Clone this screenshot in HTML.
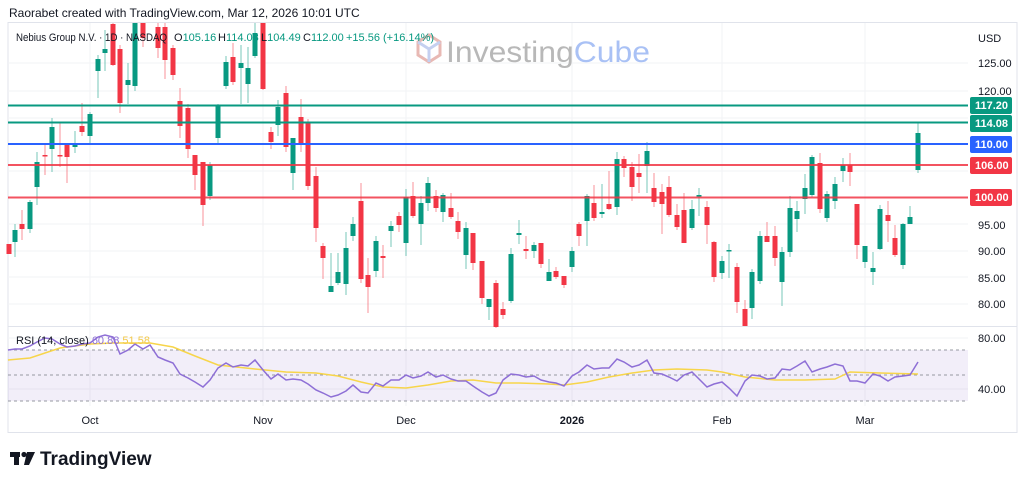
<!DOCTYPE html>
<html><head><meta charset="utf-8"><style>
html,body{margin:0;padding:0;background:#fff;}
body{width:1024px;height:484px;overflow:hidden;font-family:"Liberation Sans",sans-serif;}
</style></head><body>
<svg id="s" width="1024" height="484" xmlns="http://www.w3.org/2000/svg" font-family="Liberation Sans, sans-serif">
<rect width="1024" height="484" fill="#fff"/>
<text x="9" y="17" font-size="12" fill="#131722">Raorabet created with TradingView.com, Mar 12, 2026 10:01 UTC</text>
<rect x="8" y="22.5" width="1009" height="410" fill="none" stroke="#e0e3eb"/>
<g stroke="#f2f3f5" stroke-width="1">
<line x1="8" x2="968" y1="63" y2="63"/><line x1="8" x2="968" y1="91" y2="91"/><line x1="8" x2="968" y1="118" y2="118"/>
<line x1="8" x2="968" y1="171" y2="171"/><line x1="8" x2="968" y1="224" y2="224"/><line x1="8" x2="968" y1="251" y2="251"/>
<line x1="8" x2="968" y1="277" y2="277"/><line x1="8" x2="968" y1="304" y2="304"/>
<line x1="8" x2="968" y1="338" y2="338"/><line x1="8" x2="968" y1="389" y2="389"/>
<line x1="90" x2="90" y1="23" y2="406"/><line x1="263" x2="263" y1="23" y2="406"/><line x1="406" x2="406" y1="23" y2="406"/>
<line x1="572" x2="572" y1="23" y2="406"/><line x1="722" x2="722" y1="23" y2="406"/><line x1="865" x2="865" y1="23" y2="406"/>
</g>
<line x1="8" x2="1017" y1="326.5" y2="326.5" stroke="#e0e3eb"/>
<!-- watermark -->
<g opacity="0.35">
<path d="M418 42 l11 -7 l11 7 v13 l-11 7 l-11 -7z" fill="none" stroke="#c0392b" stroke-width="3"/>
<path d="M418 42 l11 7 l11 -7 M429 49 v13" fill="none" stroke="#5b7bd5" stroke-width="3"/>
</g>
<text x="446" y="62" font-size="30" fill="#b8b8b8" textLength="204" lengthAdjust="spacingAndGlyphs">Investing<tspan fill="#a9c1f5">Cube</tspan></text>
<g id="c"></g>
<!-- levels -->
<line x1="8" x2="968" y1="105.5" y2="105.5" stroke="#089981" stroke-width="2"/>
<line x1="8" x2="968" y1="122.5" y2="122.5" stroke="#089981" stroke-width="2"/>
<line x1="8" x2="968" y1="144" y2="144" stroke="#2962ff" stroke-width="2"/>
<line x1="8" x2="968" y1="165" y2="165" stroke="#f23645" stroke-width="2" opacity="0.85"/>
<line x1="8" x2="968" y1="197.5" y2="197.5" stroke="#f23645" stroke-width="2" opacity="0.85"/>
<g font-size="11" fill="#131722">
<text x="16" y="41" textLength="151" lengthAdjust="spacingAndGlyphs">Nebius Group N.V. · 1D · NASDAQ</text>
<text x="174" y="41">O<tspan fill="#089981">105.16</tspan></text>
<text x="218" y="41">H<tspan fill="#089981">114.08</tspan></text>
<text x="261" y="41">L<tspan fill="#089981">104.49</tspan></text>
<text x="303" y="41">C<tspan fill="#089981">112.00</tspan></text>
<text x="346" y="41" fill="#089981">+15.56 (+16.14%)</text>
</g>
<!-- axis -->
<g font-size="11" fill="#131722">
<text x="978" y="42">USD</text>
<text x="978" y="67">125.00</text><text x="978" y="95">120.00</text>
<text x="978" y="229">95.00</text><text x="978" y="255">90.00</text><text x="978" y="282">85.00</text><text x="978" y="308">80.00</text>
<text x="978" y="342">80.00</text><text x="978" y="393">40.00</text>
</g>
<g font-size="11" font-weight="bold" fill="#fff">
<rect x="970" y="97" width="42" height="17" rx="2" fill="#089981"/><text x="975" y="109">117.20</text>
<rect x="970" y="115" width="42" height="17" rx="2" fill="#089981"/><text x="975" y="127">114.08</text>
<rect x="970" y="136" width="42" height="17" rx="2" fill="#2962ff"/><text x="975" y="148">110.00</text>
<rect x="970" y="157" width="42" height="17" rx="2" fill="#f23645"/><text x="975" y="169">106.00</text>
<rect x="970" y="189" width="42" height="17" rx="2" fill="#f23645"/><text x="975" y="201">100.00</text>
</g>
<!-- RSI -->
<rect x="8" y="350" width="960" height="51" fill="#7e57c2" opacity="0.1"/>
<g stroke="#9598a1" stroke-dasharray="3,3" stroke-width="1">
<line x1="8" x2="968" y1="350" y2="350"/><line x1="8" x2="968" y1="375" y2="375"/><line x1="8" x2="968" y1="401" y2="401"/>
</g>
<polyline id="ma" fill="none" stroke="#f7d54a" stroke-width="1.5"/>
<polyline id="rsi" fill="none" stroke="#8e6fd6" stroke-width="1.5"/>
<text x="16" y="344" font-size="11" fill="#131722">RSI (14, close) <tspan fill="#8e6fd6">60.88</tspan> <tspan fill="#f2c94c">51.58</tspan></text>
<g font-size="11" fill="#131722" text-anchor="middle">
<text x="90" y="424">Oct</text><text x="263" y="424">Nov</text><text x="406" y="424">Dec</text>
<text x="572" y="424" font-weight="bold">2026</text><text x="722" y="424">Feb</text><text x="865" y="424">Mar</text>
</g>
<g fill="#131722">
<rect x="10" y="452" width="10" height="5"/><rect x="14" y="452" width="5" height="13"/>
<circle cx="24" cy="454.5" r="2.6"/><path d="M27 452 h8 l-6 13 h-5z"/>
<text x="40" y="465" font-size="19" font-weight="bold">TradingView</text>
</g>
</svg>
<script>
var C=[[9,244,254,244,254,0],[15,230,242,224,257,1],[22,224,229,210,240,0],[30,202,229,200,233,1],[37,162,187,152,205,1],[45,155,156,145,175,0],[52,127,149,118,172,1],[60,155,156,123,167,0],[67,145,157,143,183,0],[75,144,147,131,153,1],[82,126,132,103,136,0],[90,114,136,112,145,1],[98,59,71,55,98,1],[105,49,53,30,71,1],[113,24,65,23,66,0],[120,49,103,45,113,0],[128,80,85,63,104,1],[135,23,86,23,91,1],[143,23,38,23,47,0],[158,27,48,23,58,0],[165,27,60,23,79,0],[173,48,75,45,80,0],[180,101,126,88,138,0],[188,108,149,104,158,0],[195,155,175,155,190,0],[203,162,205,162,226,0],[210,165,196,162,200,1],[218,106,138,104,143,1],[226,62,86,56,89,1],[233,57,82,43,85,0],[241,63,68,45,104,1],[248,68,84,47,103,1],[255,33,56,23,58,1],[263,23,89,23,90,0],[271,132,142,127,149,0],[278,107,125,100,136,1],[286,93,147,86,152,0],[293,138,173,138,190,1],[301,117,145,99,152,0],[308,123,186,119,190,0],[316,176,228,167,242,0],[323,246,258,243,279,0],[331,286,292,253,292,1],[338,272,283,253,285,1],[346,248,284,232,295,1],[353,224,236,217,241,1],[361,201,279,183,283,0],[368,275,287,258,313,0],[376,241,271,236,277,1],[383,256,258,245,278,0],[391,226,231,221,247,1],[399,216,225,212,232,0],[406,197,243,189,256,1],[413,196,216,182,218,0],[421,203,224,196,245,1],[428,183,203,177,211,1],[436,196,208,190,212,0],[443,195,212,193,222,1],[451,208,217,193,219,0],[458,221,232,212,239,0],[466,228,255,222,269,1],[473,233,263,233,270,0],[482,261,298,261,304,0],[489,299,307,299,320,1],[496,283,327,280,328,0],[503,309,315,302,319,0],[511,254,301,248,303,1],[519,233,235,220,244,1],[526,249,251,236,259,0],[534,245,251,242,258,1],[541,243,264,243,268,0],[549,272,281,259,281,1],[556,271,277,267,279,0],[564,276,285,276,288,0],[572,251,267,247,272,1],[579,224,236,222,246,0],[587,196,221,194,246,1],[594,203,218,185,221,0],[602,212,214,184,218,1],[609,204,209,171,210,0],[617,159,207,152,215,1],[624,159,168,156,177,0],[632,167,187,162,201,0],[639,173,177,154,193,0],[647,151,166,142,193,1],[654,188,202,173,207,0],[662,192,204,184,234,0],[669,187,215,176,217,0],[677,215,227,204,230,0],[684,210,243,193,243,0],[692,209,228,200,230,1],[699,195,196,188,216,1],[707,207,225,201,244,0],[714,242,277,241,282,0],[722,261,273,256,279,1],[729,250,251,244,278,1],[737,267,302,263,313,0],[745,309,326,300,326,0],[752,272,308,269,319,1],[760,236,281,231,284,1],[767,236,242,222,242,0],[775,236,258,226,266,0],[782,252,282,247,306,1],[790,208,252,196,257,1],[797,211,219,201,232,1],[805,188,199,174,214,1],[812,157,195,155,197,1],[820,163,209,153,213,0],[827,194,218,191,222,1],[835,184,201,177,209,1],[843,165,171,158,182,1],[850,165,172,153,186,0],[857,204,245,204,259,0],[865,246,262,246,268,1],[873,268,272,252,285,1],[880,209,249,205,250,1],[888,215,221,201,242,0],[895,238,255,225,257,0],[903,224,265,223,269,1],[910,217,224,206,224,1],[918,133,170,123,173,1]];
var h='';C.forEach(function(c){var col=c[5]?'#089981':'#f23645';var bh=Math.max(1.5,c[2]-c[1]);
h+='<line x1="'+c[0]+'" x2="'+c[0]+'" y1="'+c[3]+'" y2="'+c[4]+'" stroke="'+col+'" stroke-opacity="0.55" stroke-width="1"/>';
h+='<rect x="'+(c[0]-2.5)+'" y="'+c[1]+'" width="5" height="'+bh+'" fill="'+col+'"/>';});
document.getElementById('c').innerHTML=h;
var R=[[8,350],[15,349],[22,349],[30,346],[37,342],[45,338],[52,339],[60,344],[67,347],[75,346],[82,344],[90,343],[98,337],[105,335],[113,337],[120,354],[128,350],[135,344],[143,349],[150,345],[158,357],[165,360],[173,363],[180,374],[188,378],[195,382],[203,387],[210,380],[218,368],[226,363],[233,367],[241,365],[248,366],[255,360],[263,370],[271,379],[278,374],[286,380],[293,379],[301,380],[308,384],[316,390],[323,393],[331,397],[338,395],[346,391],[353,385],[361,392],[368,393],[376,383],[383,386],[391,380],[399,380],[406,375],[413,378],[421,376],[428,372],[436,377],[443,375],[451,379],[458,381],[466,381],[473,386],[482,392],[489,396],[496,393],[503,380],[511,374],[519,375],[526,377],[534,376],[541,380],[549,382],[556,383],[564,386],[572,376],[579,372],[587,365],[594,369],[602,368],[609,368],[617,359],[624,362],[632,367],[639,365],[647,360],[654,373],[662,374],[669,377],[677,381],[684,375],[692,372],[699,379],[707,387],[714,384],[722,382],[729,388],[737,396],[745,381],[752,375],[760,376],[767,379],[775,378],[782,369],[790,370],[797,366],[805,361],[812,372],[820,369],[827,367],[835,364],[843,366],[850,381],[857,381],[865,383],[873,374],[880,376],[888,381],[895,377],[903,376],[910,375],[918,362]];
var M=[[8,360],[30,358],[60,348],[90,344],[113,343],[150,343],[173,347],[195,356],[218,365],[255,369],[286,372],[316,373],[338,376],[361,382],[383,387],[406,388],[428,385],[451,381],[473,380],[496,383],[519,383],[549,384],[564,385],[587,382],[609,377],[632,373],[654,370],[677,369],[707,370],[722,372],[745,377],[775,380],[805,380],[835,379],[850,372],[880,373],[918,374]];
document.getElementById('rsi').setAttribute('points',R.map(function(p){return p.join(',')}).join(' '));
document.getElementById('ma').setAttribute('points',M.map(function(p){return p.join(',')}).join(' '));
</script>
</body></html>
